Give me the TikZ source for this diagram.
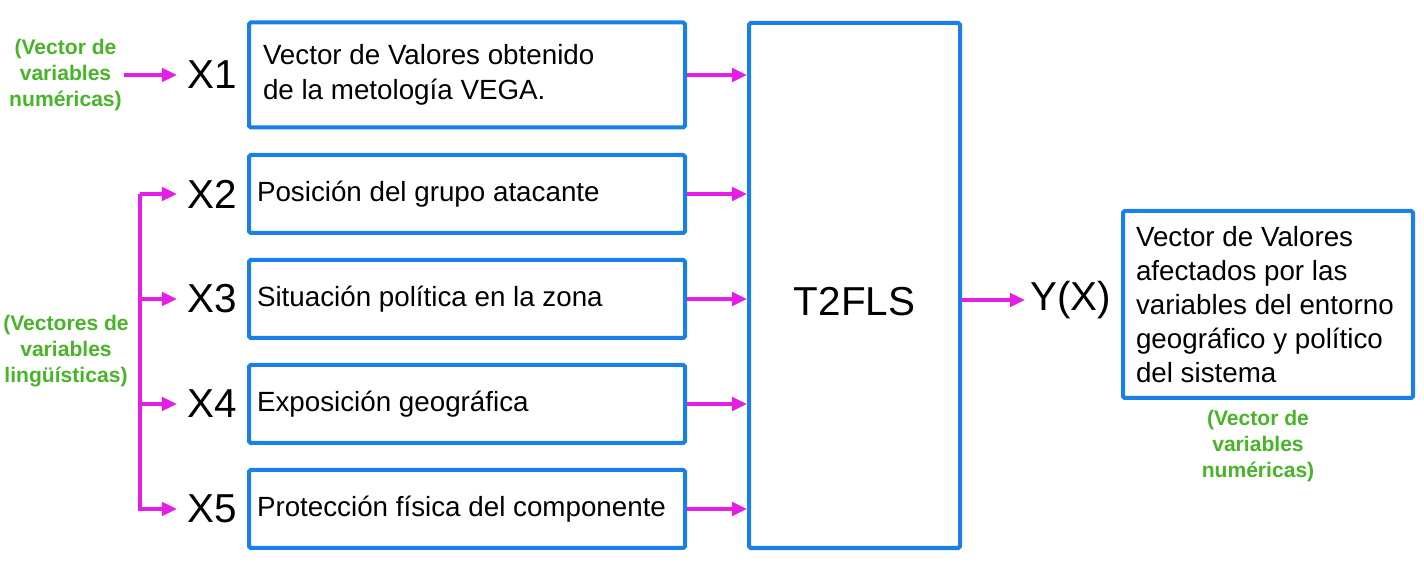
\documentclass[tikz,border=0pt]{standalone}
\usepackage{fontspec}
\setmainfont{Liberation Sans}
\usetikzlibrary{arrows.meta}
\definecolor{boxblue}{RGB}{24,128,230}
\definecolor{linkpink}{RGB}{228,30,228}
\definecolor{notegreen}{RGB}{72,180,40}

\begin{document}
\begin{tikzpicture}[
    blk/.style={draw=boxblue,line width=0.08cm,rounded corners=1pt,minimum width=8.72cm,minimum height=1.56cm,inner xsep=0.16cm,text width=8.4cm,align=flush left,font=\fontsize{15.8}{19.8}\selectfont},
    var/.style={inner sep=0.2cm,font=\fontsize{23}{27}\selectfont},
    note/.style={text=notegreen,align=center,inner sep=1pt,font=\bfseries\fontsize{12}{14.7}\selectfont},
    link/.style={draw=linkpink,line width=0.065cm,-{Triangle[length=0.3cm,width=0.27cm]}},
  ]
    \useasboundingbox (0,0) rectangle (28.48,-11.7);

    \node (b1) at (9.34,-1.5) [blk,minimum height=2.1cm,inner xsep=0.28cm,text width=8.16cm] {Vector de Valores obtenido\\de la metología VEGA.};
    \node (b2) at (9.34,-3.88) [blk] {Posición del grupo atacante};
    \node (b3) at (9.34,-5.98) [blk] {Situación política en la zona};
    \node (b4) at (9.34,-8.08) [blk] {Exposición geográfica};
    \node (b5) at (9.34,-10.18) [blk] {Protección física del componente};

    \node (t2fls) at (17.09,-5.71) [draw=boxblue,line width=0.08cm,rounded corners=1pt,minimum width=4.22cm,minimum height=10.5cm] {};
    \node (t2txt) at (17.09,-6.03) [var] {T2FLS};

    \node (x1) at (4.24,-1.5) [var] {X1};
    \node (x2) at (4.24,-3.88) [var] {X2};
    \node (x3) at (4.24,-5.98) [var] {X3};
    \node (x4) at (4.24,-8.08) [var] {X4};
    \node (x5) at (4.24,-10.18) [var] {X5};

    \node (yx) at (20.5,-6.0) [var,anchor=west,inner sep=0.1cm] {Y(X)};
    \node (outbox) at (25.36,-6.09) [blk,minimum width=5.8cm,minimum height=3.74cm,inner xsep=0.26cm,text width=5.28cm,font=\fontsize{15.8}{19.3}\selectfont] {Vector de Valores\\afectados por las\\variables del entorno\\geográfico y político\\del sistema};

    \node (numin) at (1.31,-1.5) [note] {(Vector de\\variables\\numéricas)};
    \node (lingin) at (1.32,-7.02) [note] {(Vectores de\\variables\\lingüísticas)};
    \node (numout) at (25.16,-8.92) [note] {(Vector de\\variables\\numéricas)};

    \draw[link] (numin.east) -- (x1);
    \coordinate (fork) at (2.8,-3.88);
    \draw[link] (fork) -- (x2);
    \draw[link] (fork |- x3) -- (x3);
    \draw[link] (fork |- x4) -- (x4);
    \draw[link] (fork) |- (x5);

    \foreach \b in {b1,b2,b3,b4,b5}
      \draw[link] (\b.east) -- (\b.east -| t2fls.west);
    \draw[link] (t2fls.east |- yx) -- (yx);

\end{tikzpicture}
\end{document}
